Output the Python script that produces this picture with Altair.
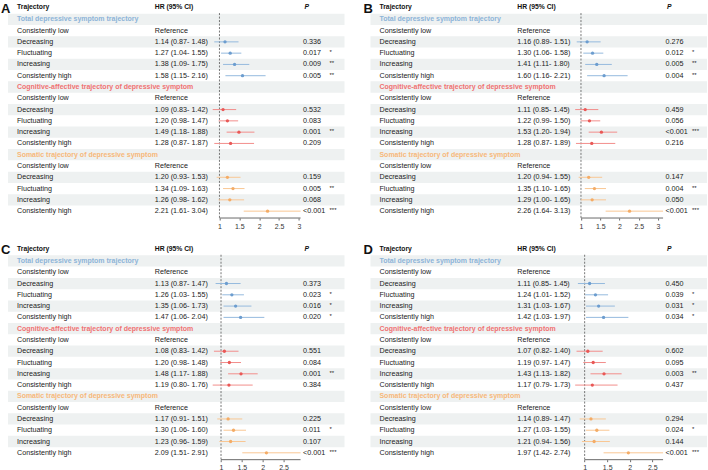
import altair as alt
import pandas as pd

FONT = "Liberation Sans"

# Row structure shared by the four panels
groups = [
    "Total depressive symptom trajectory",
    "Cognitive-affective trajectory of depressive symptom",
    "Somatic trajectory of depressive symptom",
]
levels = ["Consistently low", "Decreasing", "Fluctuating", "Increasing", "Consistently high"]

group_text_colors = ["#8db4d8", "#f07272", "#f7b87a"]
line_colors = ["#95bade", "#f28e8c", "#f9c794"]
point_colors = ["#6c9dcf", "#e95856", "#f4ac66"]

# Panel A
a_hr = [[1.14, 1.27, 1.38, 1.58], [1.09, 1.20, 1.49, 1.28], [1.20, 1.34, 1.26, 2.21]]
a_lo = [[0.87, 1.04, 1.09, 1.15], [0.83, 0.98, 1.18, 0.87], [0.93, 1.09, 0.98, 1.61]]
a_hi = [[1.48, 1.55, 1.75, 2.16], [1.42, 1.47, 1.88, 1.87], [1.53, 1.63, 1.62, 3.04]]
a_p = [["0.336", "0.017", "0.009", "0.005"], ["0.532", "0.083", "0.001", "0.209"],
       ["0.159", "0.005", "0.068", "<0.001"]]
a_sig = [["", "*", "**", "**"], ["", "", "**", ""], ["", "**", "", "***"]]

# Panel B
b_hr = [[1.16, 1.30, 1.41, 1.60], [1.11, 1.22, 1.53, 1.28], [1.20, 1.35, 1.29, 2.26]]
b_lo = [[0.89, 1.06, 1.11, 1.16], [0.85, 0.99, 1.20, 0.87], [0.94, 1.10, 1.00, 1.64]]
b_hi = [[1.51, 1.58, 1.80, 2.21], [1.45, 1.50, 1.94, 1.89], [1.55, 1.65, 1.65, 3.13]]
b_p = [["0.276", "0.012", "0.005", "0.004"], ["0.459", "0.056", "<0.001", "0.216"],
       ["0.147", "0.004", "0.050", "<0.001"]]
b_sig = [["", "*", "**", "**"], ["", "", "***", ""], ["", "**", "", "***"]]

# Panel C
c_hr = [[1.13, 1.26, 1.35, 1.47], [1.08, 1.20, 1.48, 1.19], [1.17, 1.30, 1.23, 2.09]]
c_lo = [[0.87, 1.03, 1.06, 1.06], [0.83, 0.98, 1.17, 0.80], [0.91, 1.06, 0.96, 1.51]]
c_hi = [[1.47, 1.55, 1.73, 2.04], [1.42, 1.48, 1.88, 1.76], [1.51, 1.60, 1.59, 2.91]]
c_p = [["0.373", "0.023", "0.016", "0.020"], ["0.551", "0.084", "0.001", "0.384"],
       ["0.225", "0.011", "0.107", "<0.001"]]
c_sig = [["", "*", "*", "*"], ["", "", "**", ""], ["", "*", "", "***"]]

# Panel D
d_hr = [[1.11, 1.24, 1.31, 1.42], [1.07, 1.19, 1.43, 1.17], [1.14, 1.27, 1.21, 1.97]]
d_lo = [[0.85, 1.01, 1.03, 1.03], [0.82, 0.97, 1.13, 0.79], [0.89, 1.03, 0.94, 1.42]]
d_hi = [[1.45, 1.52, 1.67, 1.97], [1.40, 1.47, 1.82, 1.73], [1.47, 1.55, 1.56, 2.74]]
d_p = [["0.450", "0.039", "0.031", "0.034"], ["0.602", "0.095", "0.003", "0.437"],
       ["0.294", "0.024", "0.144", "<0.001"]]
d_sig = [["", "*", "*", "*"], ["", "", "**", ""], ["", "*", "", "***"]]

tick_candidates = [1, 1.5, 2, 2.5, 3]

PANEL_W = 346
PANEL_H = 218
ROW_TOP = -1.68
ROW_BOTTOM = 17.61
HEADER_ROW = -1.06


def build_panel(letter, hr, lo, hi, pv, sig):
    table_rows, est_rows, head_rows = [], [], []
    for g, name in enumerate(groups):
        base = 6 * g
        head_rows.append({"r": base, "text": name, "color": group_text_colors[g]})
        table_rows.append({"r": base + 1, "label": levels[0], "hr_text": "Reference",
                           "p": "", "sig": ""})
        for k in range(4):
            r = base + 2 + k
            table_rows.append({
                "r": r, "label": levels[k + 1],
                "hr_text": f"{hr[g][k]:.2f} ({lo[g][k]:.2f}- {hi[g][k]:.2f})",
                "p": pv[g][k], "sig": sig[g][k],
            })
            est_rows.append({"r": r, "hr": hr[g][k], "lo": lo[g][k], "hi": hi[g][k],
                             "line": line_colors[g], "pt": point_colors[g]})

    table = pd.DataFrame(table_rows)
    est = pd.DataFrame(est_rows)
    heads = pd.DataFrame(head_rows)
    stripes = pd.DataFrame({"r0": [i - 0.5 for i in range(0, 18, 2)],
                            "r1": [i + 0.5 for i in range(0, 18, 2)]})

    xmin = float(est["lo"].min())
    xmax = float(est["hi"].max())
    ticks = [t for t in tick_candidates if t <= xmax]

    x_scale = alt.Scale(domain=[xmin, xmax], range=[213, 301], nice=False, zero=False)
    y_scale = alt.Scale(domain=[ROW_TOP, ROW_BOTTOM], reverse=True, nice=False, zero=False)
    x_axis = alt.Axis(values=ticks, format="~g", domain=False, grid=False, title=None,
                      tickSize=2, tickWidth=0.8, tickColor="#444", labelFont=FONT,
                      labelFontSize=7, labelColor="#333", labelPadding=2)

    base_y = alt.Y("r:Q", scale=y_scale, axis=None)

    band = alt.Chart(stripes).mark_rect(color="#eef1f1").encode(
        y=alt.Y("r0:Q", scale=y_scale, axis=None), y2="r1:Q",
        x=alt.value(8), x2=alt.value(345),
    )

    ref = pd.DataFrame({"x": [1.0], "x_end": [xmax], "top": [-0.55], "bot": [ROW_BOTTOM]})
    null_line = alt.Chart(ref).mark_rule(color="#555", strokeWidth=0.8,
                                         strokeDash=[2, 1.5]).encode(
        x=alt.X("x:Q", scale=x_scale, axis=x_axis),
        y=alt.Y("top:Q", scale=y_scale, axis=None), y2="bot:Q",
    )
    axis_line = alt.Chart(ref).mark_rule(color="#444", strokeWidth=0.8).encode(
        x=alt.X("x:Q", scale=x_scale, axis=x_axis), x2="x_end:Q",
        y=alt.Y("bot:Q", scale=y_scale, axis=None),
    )

    ci = alt.Chart(est).mark_rule(strokeWidth=1).encode(
        x=alt.X("lo:Q", scale=x_scale, axis=x_axis), x2="hi:Q",
        y=base_y, color=alt.Color("line:N", scale=None),
    )
    pts = alt.Chart(est).mark_circle(size=11, opacity=1).encode(
        x=alt.X("hr:Q", scale=x_scale, axis=x_axis),
        y=base_y, color=alt.Color("pt:N", scale=None),
    )

    def col_text(field, xpos, size=7.2, **kw):
        return alt.Chart(table).mark_text(align="left", baseline="middle", font=FONT,
                                          fontSize=size, color="#222", **kw).encode(
            x=alt.value(xpos), y=base_y, text=f"{field}:N")

    labels = col_text("label", 17)
    hr_txt = col_text("hr_text", 155)
    p_txt = col_text("p", 303.5)
    sig_txt = col_text("sig", 330, size=6, dy=-1)

    group_txt = alt.Chart(heads).mark_text(align="left", baseline="middle", font=FONT,
                                           fontSize=7, fontWeight="bold").encode(
        x=alt.value(17), y=base_y, text="text:N", color=alt.Color("color:N", scale=None))

    hdr = pd.DataFrame({"r": [HEADER_ROW]})

    def header(text, xpos, **kw):
        return alt.Chart(hdr).mark_text(align="left", baseline="middle", font=FONT,
                                        fontSize=6.8, fontWeight="bold", color="#111",
                                        text=text, **kw).encode(x=alt.value(xpos), y=base_y)

    h1 = header("Trajectory", 17)
    h2 = header("HR (95% CI)", 155)
    h3 = header("P", 305, fontStyle="italic")

    tag = alt.Chart(pd.DataFrame({"r": [-0.95]})).mark_text(
        align="left", baseline="middle", font=FONT, fontSize=13, fontWeight="bold",
        color="#111", text=letter).encode(x=alt.value(1), y=base_y)

    return alt.layer(
        band, null_line, axis_line, ci, pts, labels, hr_txt, p_txt, sig_txt,
        group_txt, h1, h2, h3, tag,
    ).properties(width=PANEL_W, height=PANEL_H)


panel_a = build_panel("A", a_hr, a_lo, a_hi, a_p, a_sig)
panel_b = build_panel("B", b_hr, b_lo, b_hi, b_p, b_sig)
panel_c = build_panel("C", c_hr, c_lo, c_hi, c_p, c_sig)
panel_d = build_panel("D", d_hr, d_lo, d_hi, d_p, d_sig)

chart = alt.vconcat(
    alt.hconcat(panel_a, panel_b, spacing=17),
    alt.hconcat(panel_c, panel_d, spacing=17),
    spacing=13,
).properties(
    padding={"left": 0, "top": 0, "right": 0, "bottom": 0},
    background="white",
).configure_view(stroke=None)

chart.save("out.html", embed_options={"renderer": "svg", "actions": False})
